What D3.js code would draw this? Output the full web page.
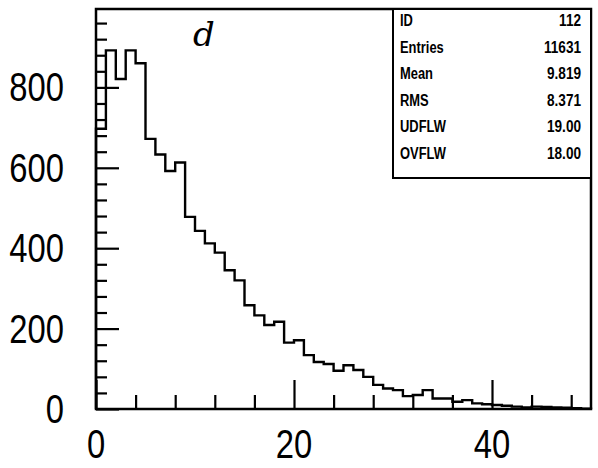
<html>
<script src="https://d3js.org/d3.v7.min.js"></script>
<style>
body {margin: 0; background: #fff;}
text {font-family: "Liberation Sans", Arial, sans-serif; fill: #000;}
</style>
<body>
<svg width=598 height=468></svg>
<script>
// bin lower edges (1 unit wide bins) and counts
var binLow = [0,1,2,3,4,5,6,7,8,9,10,11,12,13,14,15,16,17,18,19,20,21,22,23,24,
              25,26,27,28,29,30,31,32,33,34,35,36,37,38,39,40,41,42,43,44,45,46,47,48,49];
var counts = [697,892,821,892,860,672,633,592,613,478,443,412,389,345,320,258,233,209,217,165,
              171,134,117,112,95,109,97,80,60,51,47,32,35,47,26,26,18,22,14,12,
              10,8,6,4,6,5,4,3,2,1];

var xMajor = [0,20,40];
var xMinor = [4,8,12,16,24,28,32,36,44,48];
var yMajor = [0,200,400,600,800];
var yMinor = [40,80,120,160,240,280,320,360,440,480,520,560,640,680,720,760,840,880,920,960];

var statNames = ["ID","Entries","Mean","RMS","UDFLW","OVFLW"];
var statValues = ["112","11631","9.819","8.371","19.00","18.00"];

var svg = d3.select("svg");
var pLeft = 96, pRight = 591, pTop = 9, pBottom = 409;

var x = d3.scaleLinear().domain([0,50]).range([pLeft,pRight]);
var y = d3.scaleLinear().domain([0,995]).range([pBottom,pTop]);

// ticks, pointing into the frame
function tickAxis(axis, vals, size, tr) {
	var g = svg.append("g").attr("transform", tr)
		.call(axis.tickValues(vals).tickSizeInner(size).tickSizeOuter(0).tickFormat(""));
	g.select(".domain").remove();
	g.selectAll(".tick line").attr("stroke","#000").attr("stroke-width",2.2);
}
tickAxis(d3.axisBottom(x), xMinor, -14, "translate(0,"+pBottom+")");
tickAxis(d3.axisBottom(x), xMajor, -29, "translate(0,"+pBottom+")");
tickAxis(d3.axisLeft(y), yMinor, -11, "translate("+pLeft+",0)");
tickAxis(d3.axisLeft(y), yMajor, -23, "translate("+pLeft+",0)");

// histogram outline
var pts = [[0,0]];
binLow.forEach((b,i) => pts.push([b, counts[i]]));
pts.push([50, counts[counts.length-1]]);
pts.push([50, 0]);
svg.append("path")
	.attr("d", d3.line().x(d => x(d[0])).y(d => y(d[1])).curve(d3.curveStepAfter)(pts))
	.attr("fill","none").attr("stroke","#000").attr("stroke-width",2.4).attr("stroke-linejoin","miter");

// frame
svg.append("rect").attr("x",pLeft).attr("y",pTop).attr("width",pRight-pLeft).attr("height",pBottom-pTop)
	.attr("fill","none").attr("stroke","#000").attr("stroke-width",2.5);

// tick labels (narrow digits)
yMajor.forEach(v => {
	svg.append("text").attr("transform","translate(64,"+(y(v)+14)+") scale(0.82,1)")
		.attr("text-anchor","end").style("font-size","40px").text(v);
});
xMajor.forEach(v => {
	svg.append("text").attr("transform","translate("+x(v)+",458) scale(0.82,1)")
		.attr("text-anchor","middle").style("font-size","40px").text(v);
});

// stats box
var boxL = 393, boxT = 9, rowH = 26.5;
svg.append("rect").attr("x",boxL).attr("y",boxT).attr("width",pRight-boxL).attr("height",169)
	.attr("fill","#fff").attr("stroke","#000").attr("stroke-width",2);
statNames.forEach((n,i) => {
	var by = boxT + 17 + i*rowH;
	svg.append("text").attr("transform","translate(400,"+by+") scale(0.76,1)")
		.style("font-size","17px").style("font-weight","bold").text(n);
	svg.append("text").attr("transform","translate(581,"+by+") scale(0.8,1)")
		.attr("text-anchor","end").style("font-size","17px").style("font-weight","bold").text(statValues[i]);
});

// handwritten annotation
svg.append("text").attr("x",193).attr("y",46)
	.style("font-family","DejaVu Serif").style("font-style","italic").style("font-size","34px").text("d");
</script>
</body>
</html>
